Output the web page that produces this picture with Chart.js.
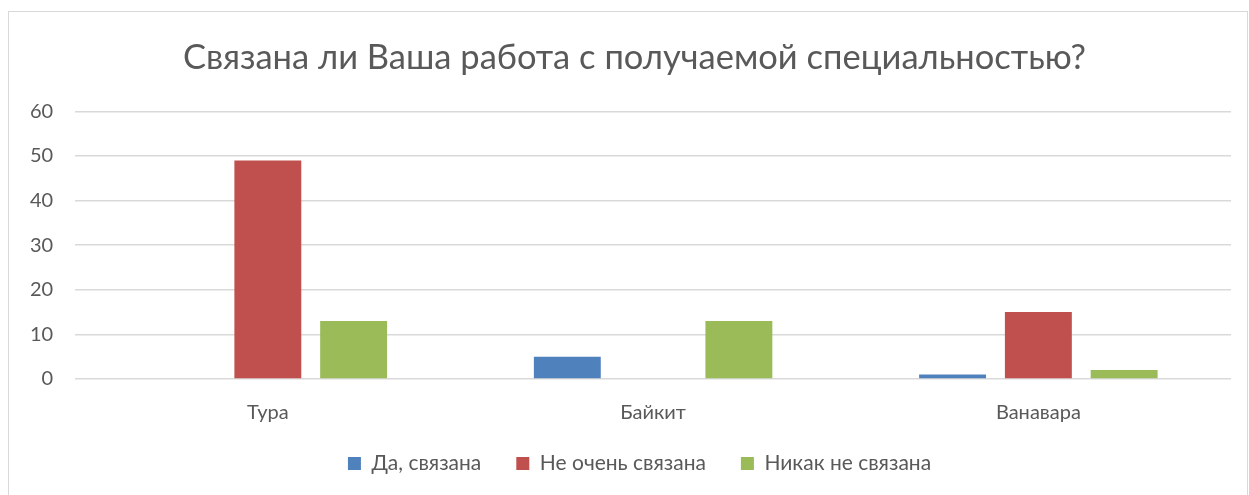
<!DOCTYPE html>
<html>
<head>
<meta charset="utf-8">
<script src="https://cdn.jsdelivr.net/npm/chart.js@4"></script>
<style>
  html, body { margin: 0; padding: 0; background: #ffffff; }
  #wrap { position: absolute; left: 0; top: 0; width: 1249px; height: 495px; }
  #frame { position: absolute; left: 8px; top: 11px; width: 1240px; height: 500px; border: 1px solid #d9d9d9; box-sizing: border-box; pointer-events: none; }
</style>
</head>
<body>
<div id="wrap"><canvas id="c" width="1249" height="495"></canvas></div>
<div id="frame"></div>
<script>
const chartTitle = "Связана ли Ваша работа с получаемой специальностью?";
const categories = ["Тура", "Байкит", "Ванавара"];
const seriesNames = ["Да, связана", "Не очень связана", "Никак не связана"];
const seriesYes = [0, 5, 1];
const seriesNotVery = [49, 0, 15];
const seriesNotAtAll = [13, 13, 2];
const yTicks = [0, 10, 20, 30, 40, 50, 60];
const colors = ["#4f81bd", "#c0504d", "#9bbb59"];

const FONT = "Lato, 'Liberation Sans', sans-serif";
const TEXT = "#595959";

// Small layout tweaks: tighten the legend block and shift title/legend horizontally
const tweakPlugin = {
  id: 'tweak',
  beforeInit(chart) {
    const lg = chart.legend;
    if (lg) {
      const fit = lg.fit.bind(lg);
      lg.fit = function () { fit(); this.height -= 21; };
      const inner = lg._draw.bind(lg);
      lg._draw = function () {
        const c = chart.ctx; c.save(); c.translate(20, -21); inner(); c.restore();
      };
    }
    const tb = chart.titleBlock;
    if (tb) {
      const draw = tb.draw.bind(tb);
      tb.draw = function () {
        const c = chart.ctx; c.save(); c.translate(15, 0); draw(); c.restore();
      };
    }
  }
};

const ctx = document.getElementById('c').getContext('2d');
new Chart(ctx, {
  type: 'bar',
  data: {
    labels: categories,
    datasets: [seriesYes, seriesNotVery, seriesNotAtAll].map((d, i) => ({
      label: seriesNames[i],
      data: d,
      backgroundColor: colors[i],
      borderWidth: 0,
      barPercentage: 0.78,
      categoryPercentage: 0.668
    }))
  },
  plugins: [tweakPlugin],
  options: {
    responsive: false,
    animation: false,
    devicePixelRatio: 1,
    layout: { padding: { left: 8, right: 18, top: 33, bottom: 11 } },
    plugins: {
      title: {
        display: true,
        text: chartTitle,
        color: TEXT,
        font: { family: FONT, size: 34.5, weight: 'normal' },
        padding: { top: 4, bottom: 33 }
      },
      legend: {
        position: 'bottom',
        labels: {
          color: TEXT,
          font: { family: FONT, size: 21 },
          boxWidth: 13,
          boxHeight: 13,
          padding: 35
        }
      },
      tooltip: { enabled: false }
    },
    scales: {
      x: {
        grid: { display: false },
        border: { display: false },
        ticks: { color: TEXT, font: { family: FONT, size: 20 }, padding: 14 }
      },
      y: {
        min: yTicks[0],
        max: yTicks[yTicks.length - 1],
        afterBuildTicks: (axis) => { axis.ticks = yTicks.map(v => ({ value: v })); },
        grid: { color: '#d9d9d9', lineWidth: 1.5, drawTicks: false },
        border: { display: false },
        ticks: { color: TEXT, font: { family: FONT, size: 20 }, padding: 22 }
      }
    }
  }
});
</script>
</body>
</html>
